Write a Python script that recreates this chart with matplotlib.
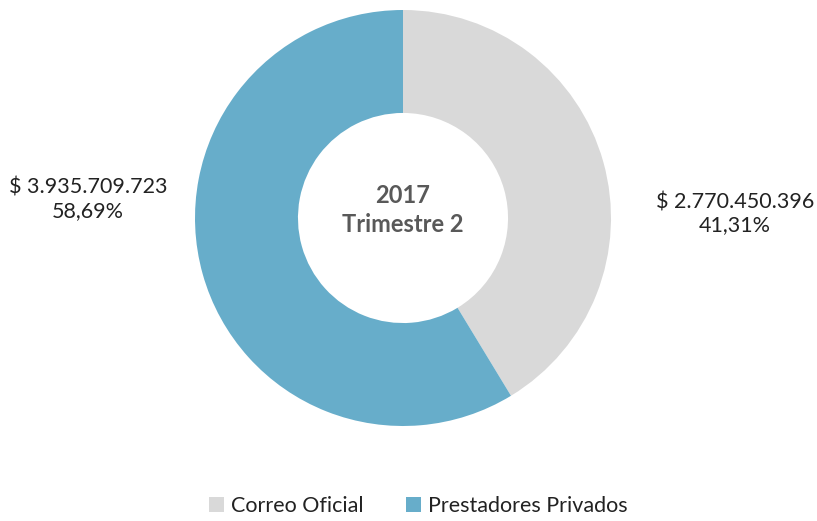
import matplotlib.pyplot as plt

plt.rcParams['font.family'] = ['Lato', 'DejaVu Sans']

categories = ['Correo Oficial', 'Prestadores Privados']
values = [2770450396, 3935709723]
colors = ['#D9D9D9', '#67ADCA']
center_title = ['2017', 'Trimestre 2']


def fmt_money(v):
    return '$ ' + f'{v:,}'.replace(',', '.')


def fmt_pct(p):
    return f'{p:.2f}%'.replace('.', ',')


fig = plt.figure(figsize=(8.17, 5.21), dpi=100)
W, H = 817, 521
cx, cy, r = 403, 218, 208
ax = fig.add_axes([(cx - r) / W, (H - cy - r) / H, 2 * r / W, 2 * r / H])

wedges, _ = ax.pie(values, colors=colors, startangle=90, counterclock=False,
                   radius=1, wedgeprops=dict(width=0.495, linewidth=0))
ax.set_xlim(-1, 1)
ax.set_ylim(-1, 1)
ax.set_aspect('equal')
ax.axis('off')

total = sum(values)
# label positions (axes data units)
label_pos = [(1.596, 0.02), (-1.514, 0.09)]
for v, (x, y) in zip(values, label_pos):
    ax.text(x, y, fmt_money(v) + '\n' + fmt_pct(100 * v / total),
            ha='center', va='center', fontsize=15.5, color='#222222',
            linespacing=1.2, clip_on=False)

ax.text(0, 0.04, '\n'.join(center_title), ha='center', va='center',
        fontsize=17, fontweight='bold', color='#595959', linespacing=1.3)

fig.legend(wedges, categories, loc='center', bbox_to_anchor=(0.512, 1 - 506 / H),
           ncol=2, frameon=False, fontsize=15.5, handlelength=0.7, handleheight=0.7,
           handletextpad=0.3, columnspacing=2.0, labelcolor='#222222')

fig.savefig('out.png', dpi=100)
